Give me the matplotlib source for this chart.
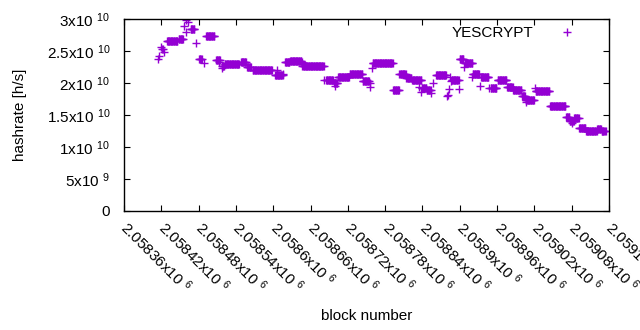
import numpy as np
import matplotlib
matplotlib.use("Agg")
import matplotlib.pyplot as plt
from matplotlib.ticker import FixedLocator

plt.rcParams['font.family'] = ['Liberation Sans', 'DejaVu Sans']
plt.rcParams['mathtext.fontset'] = 'custom'
plt.rcParams['mathtext.rm'] = 'Liberation Sans'
plt.rcParams['mathtext.it'] = 'Liberation Sans'

## runs of blocks with the same estimated hashrate (rate in 1e9 h/s)
run_start = [2058414, 2058416, 2058419, 2058421, 2058424, 2058429, 2058448,
             2058457, 2058459, 2058460, 2058463, 2058467, 2058468, 2058476,
             2058481, 2058488, 2058492, 2058508, 2058512, 2058517, 2058518,
             2058522, 2058548, 2058558, 2058567, 2058603, 2058606, 2058616,
             2058619, 2058627, 2058646, 2058647, 2058682, 2058685, 2058698,
             2058699, 2058704, 2058723, 2058744, 2058755, 2058756, 2058759,
             2058760, 2058793, 2058803, 2058814, 2058823, 2058835, 2058838,
             2058839, 2058847, 2058854, 2058857, 2058862, 2058879, 2058881,
             2058883, 2058884, 2058886, 2058887, 2058899, 2058900, 2058907,
             2058908, 2058919, 2058921, 2058932, 2058934, 2058947, 2058950,
             2058961, 2058976, 2058986, 2059000, 2059006, 2059007, 2059021,
             2059022, 2059045, 2059071, 2059077, 2059080, 2059084, 2059092,
             2059103, 2059121, 2059128, 2059135]
run_end = [2058414, 2058416, 2058419, 2058422, 2058424, 2058446, 2058455,
           2058457, 2058459, 2058460, 2058463, 2058467, 2058473, 2058476,
           2058485, 2058488, 2058505, 2058514, 2058512, 2058517, 2058521,
           2058545, 2058556, 2058564, 2058598, 2058615, 2058606, 2058616,
           2058626, 2058645, 2058646, 2058681, 2058682, 2058696, 2058703,
           2058699, 2058722, 2058743, 2058754, 2058755, 2058756, 2058759,
           2058792, 2058802, 2058813, 2058822, 2058838, 2058835, 2058838,
           2058846, 2058853, 2058854, 2058857, 2058878, 2058879, 2058881,
           2058883, 2058884, 2058886, 2058898, 2058899, 2058906, 2058907,
           2058920, 2058919, 2058931, 2058932, 2058946, 2058947, 2058959,
           2058975, 2058985, 2058999, 2059005, 2059019, 2059007, 2059021,
           2059044, 2059070, 2059076, 2059083, 2059080, 2059091, 2059102,
           2059120, 2059127, 2059133, 2059135]
run_rate = [23.8, 24.2, 25.6, 25.3, 24.8, 26.5, 26.8,
            28.9, 28.0, 29.8, 29.5, 28.5, 28.5, 26.2,
            23.7, 23.2, 27.3, 23.6, 23.3, 22.3, 22.7,
            22.9, 23.3, 22.5, 22.1, 21.25, 22.1, 21.4,
            23.3, 23.4, 23.3, 22.6, 20.5, 20.4, 19.95,
            19.5, 20.9, 21.4, 20.3, 20.0, 19.3, 22.3,
            23.2, 18.9, 21.4, 20.8, 20.4, 19.3, 18.6,
            19.2, 18.9, 18.5, 19.95, 21.25, 17.9, 18.2,
            19.0, 20.9, 20.3, 20.5, 19.0, 23.7, 22.5,
            23.1, 20.9, 21.4, 19.6, 20.9, 19.2, 19.2,
            20.4, 19.4, 18.9, 17.9, 17.4, 17.1, 19.2,
            18.7, 16.4, 14.7, 14.1, 13.7, 14.6, 13.0,
            12.45, 12.8, 12.45, 12.55]

blocks = np.concatenate([np.arange(s, e + 1) for s, e in zip(run_start, run_end)])
rates = np.concatenate([np.full(e - s + 1, r * 1e9) for s, e, r in zip(run_start, run_end, run_rate)])

xticks = np.arange(2058360, 2059141, 60)
yticks = [0, 5e9, 1e10, 1.5e10, 2e10, 2.5e10, 3e10]
ylabels = ['0', r'5x10 $^{9}$', r'1x10 $^{10}$', r'1.5x10 $^{10}$',
           r'2x10 $^{10}$', r'2.5x10 $^{10}$', r'3x10 $^{10}$']

fig = plt.figure(figsize=(6.4, 3.3), dpi=100)
ax = fig.add_axes([124/640, 1 - 211/330, 485/640, 192/330])

ax.plot(blocks, rates, linestyle='none', marker='+', markersize=6.3,
        markeredgewidth=1.0, color='#9400d3', label='YESCRYPT')

ax.set_xlim(2058360, 2059140)
ax.set_ylim(0, 3e10)
ax.xaxis.set_major_locator(FixedLocator(xticks))
ax.set_xticklabels(['%gx10 $^{6}$' % (b / 1e6) for b in xticks],
                   rotation=-45, ha='left', va='center', rotation_mode='anchor')
ax.set_yticks(yticks)
ax.set_yticklabels(ylabels)
ax.tick_params(direction='in', length=4, width=0.8, top=True, right=True,
               labelsize=11, colors='black')
ax.tick_params(axis='x', pad=10)
ax.tick_params(axis='y', pad=10)
for sp in ax.spines.values():
    sp.set_linewidth(1.0)

ax.set_xlabel('block number', fontsize=11, labelpad=9)
ax.set_ylabel('hashrate [h/s]', fontsize=11)
ax.yaxis.set_label_coords(-0.2, 0.5)

ax.legend(loc='upper right', frameon=False, markerfirst=False, fontsize=11,
          handlelength=1.0, handletextpad=1.7, borderaxespad=0.3,
          bbox_to_anchor=(0.951, 1.02))

fig.savefig('out.png', dpi=100)
